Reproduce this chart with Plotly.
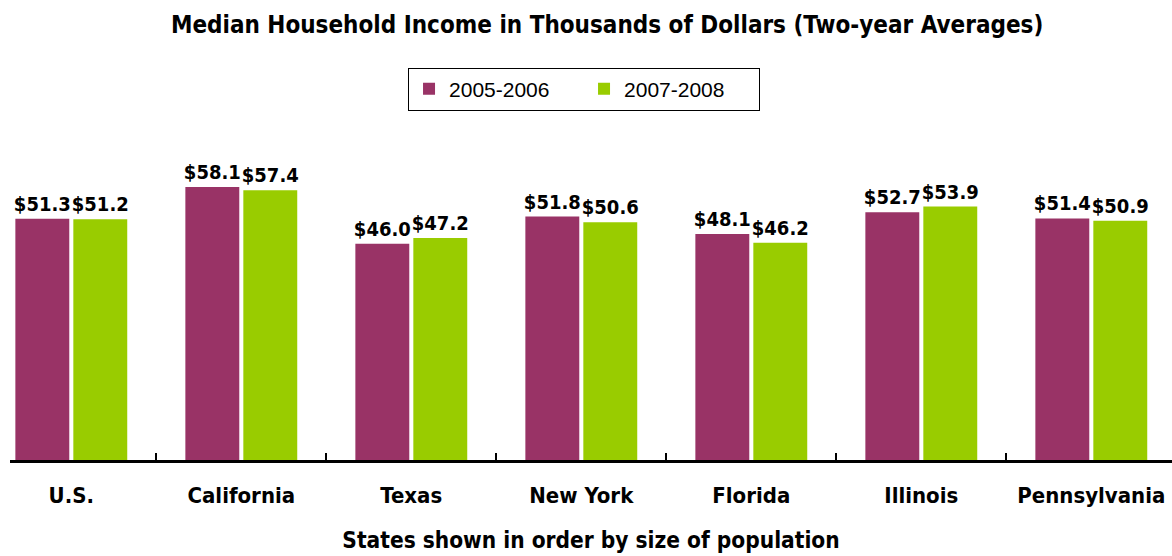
import plotly.graph_objects as go

categories = ["U.S.", "California", "Texas", "New York", "Florida", "Illinois", "Pennsylvania"]
income_2005_2006 = [51.3, 58.1, 46.0, 51.8, 48.1, 52.7, 51.4]
income_2007_2008 = [51.2, 57.4, 47.2, 50.6, 46.2, 53.9, 50.9]
series_names = ["2005-2006", "2007-2008"]
series_colors = ["#993366", "#99CC00"]

title_text = "Median Household Income in Thousands of Dollars (Two-year Averages)"
xaxis_title = "States shown in order by size of population"

BOLD = "DejaVu Sans Condensed"

fig = go.Figure()
for name, vals, col in zip(series_names, [income_2005_2006, income_2007_2008], series_colors):
    fig.add_trace(go.Bar(
        name=name, x=categories, y=vals,
        marker=dict(color=col, line=dict(width=0)),
        texttemplate="$%{y:.1f}", textposition="outside", constraintext="none",
        textfont=dict(family=BOLD, size=20, color="black", weight="bold"),
        cliponaxis=False,
    ))

fig.update_layout(
    width=1172, height=556,
    margin=dict(l=10, r=0, t=130, b=96, autoexpand=False),
    paper_bgcolor="white", plot_bgcolor="white",
    barmode="group", bargap=0.318, bargroupgap=0.07,
    title=dict(text=title_text, x=0.518, xanchor="center", y=0.955, yanchor="middle",
               font=dict(family=BOLD, size=24, color="black", weight="bold")),
    legend=dict(orientation="h", x=0.494, xanchor="center", y=1.124, yanchor="middle",
                bordercolor="black", borderwidth=1, bgcolor="white",
                font=dict(family="Liberation Sans", size=21, color="black"),
                entrywidth=130, itemwidth=30, tracegroupgap=0),
    showlegend=True,
)
fig.update_xaxes(
    type="category", range=[-0.3606, 6.4747], automargin=False,
    showline=True, linecolor="black", linewidth=3,
    ticks="inside", tickson="boundaries", ticklen=7, tickwidth=2, tickcolor="black",
    showgrid=False, ticklabelstandoff=14,
    tickfont=dict(family=BOLD, size=22, color="black", weight="bold"),
    title=dict(text=xaxis_title, standoff=25,
               font=dict(family=BOLD, size=22.5, color="black", weight="bold")),
)
fig.update_yaxes(visible=False, range=[0, 70.2], showgrid=False, automargin=False)

fig.write_html("out.html", config={"displayModeBar": False},
               post_script="document.body.style.margin='0';")
